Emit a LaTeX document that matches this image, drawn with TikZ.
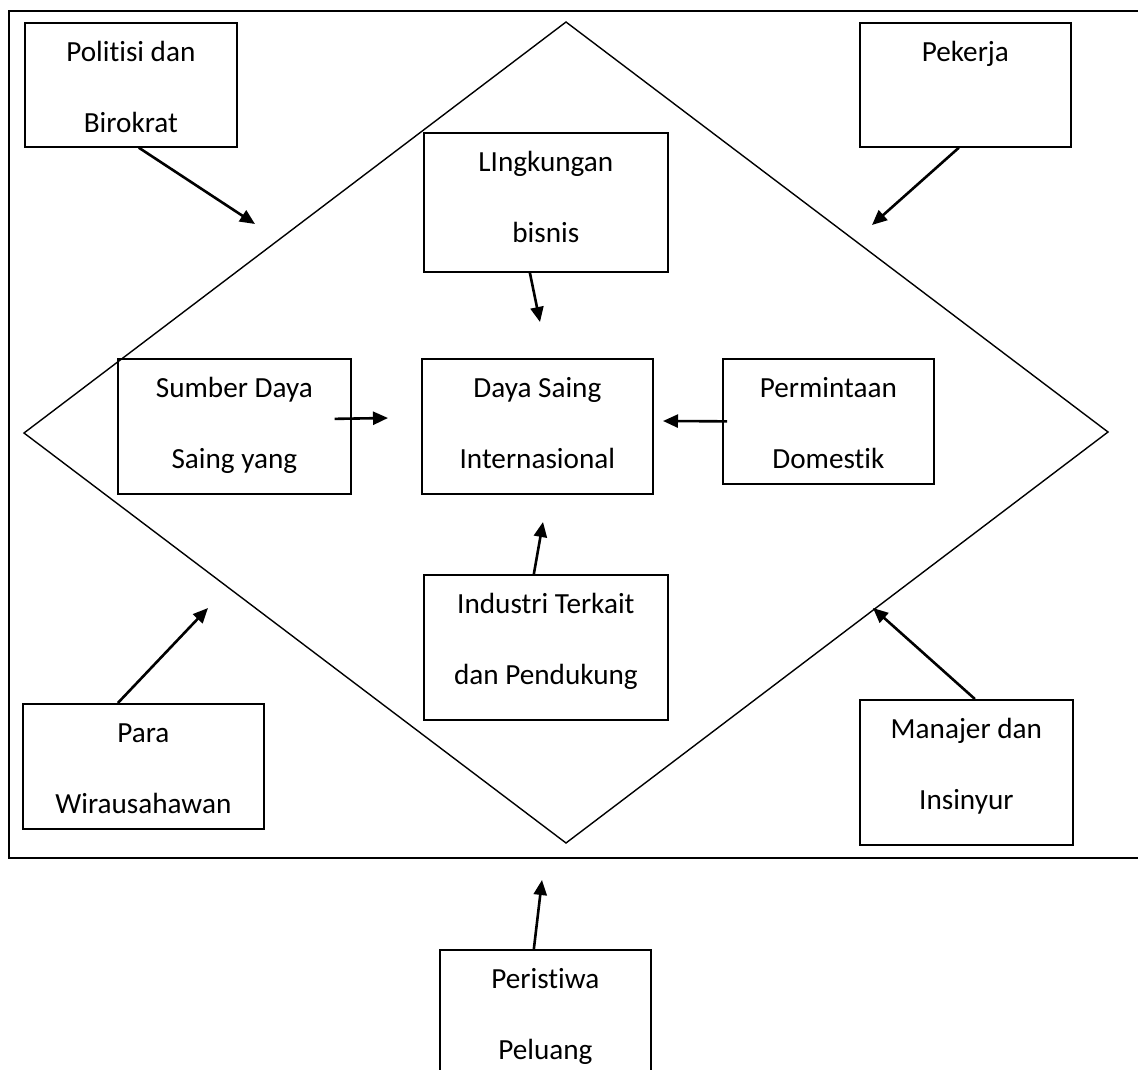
\documentclass[tikz,border=0pt]{standalone}
\usepackage{fontspec}
\setmainfont{Carlito}[Ligatures=NoCommon]
\usetikzlibrary{arrows.meta,calc}

\begin{document}
\begin{tikzpicture}[
    x=1pt, y=-1pt,
    box/.style={rectangle, draw, line width=1.7pt, inner sep=0pt, align=flush center, text height=39pt, font=\fontsize{29.2}{71}\selectfont},
    arrow/.style={-{Triangle[length=15pt,width=13pt]}, line width=2.6pt},
    edge/.style={line width=1.4pt}
  ]
  \useasboundingbox (0,0) rectangle (1138,1070);
  \clip (0,0) rectangle (1138,1070);

  % Frame and diamond
  \draw[line width=1.8pt] (1142,11) -- (9,11) -- (9,858) -- (1142,858);
  \draw[edge] (566,22) -- (1108,432) -- (566,843) -- (24,433) -- cycle;

  % Actors around the diamond
  \node[box, anchor=north west, text width=212pt, text depth=85pt] (politisi) at (24,22) {Politisi dan\\Birokrat};
  \node[box, anchor=north west, text width=211pt, text depth=85pt] (pekerja) at (859,22) {Pekerja};
  \node[box, anchor=north west, text width=241pt, text depth=86pt] (para) at (22,703) {Para\\Wirausahawan};
  \node[box, anchor=north west, text width=213pt, text depth=106pt] (manajer) at (859,699) {Manajer dan\\Insinyur};
  \node[box, anchor=north west, text width=211pt, text depth=106pt] (peristiwa) at (439,949) {Peristiwa\\Peluang};

  % Inner factors
  \node[box, anchor=north west, text width=244pt, text depth=100pt] (lingkungan) at (423,132) {LIngkungan\\bisnis};
  \node[box, anchor=north west, text width=233pt, text depth=96pt] (sumber) at (117,358) {Sumber Daya\\Saing yang};
  \node[box, anchor=north west, text width=231pt, text depth=96pt] (dayasaing) at (421,358) {Daya Saing\\Internasional};
  \node[box, anchor=north west, text width=211pt, text depth=86pt] (permintaan) at (722,358) {Permintaan\\Domestik};
  \node[box, anchor=north west, text width=244pt, text depth=106pt] (industri) at (423,574) {Industri Terkait\\dan Pendukung};

  % Arrow tips
  \coordinate (politisiTip) at (255,224);
  \coordinate (pekerjaTip) at (872,225);
  \coordinate (paraTip) at (208,608);
  \coordinate (manajerTip) at (873,608);
  \coordinate (peristiwaTip) at (542,880);
  \coordinate (lingkunganTip) at (540,322);
  \coordinate (sumberTip) at (388,418);
  \coordinate (permintaanTip) at (663,421);
  \coordinate (industriTip) at (543,522);

  % Arrows
  \draw[arrow] ($(politisi.south)+(8,0)$) -- (politisiTip);
  \draw[arrow] ($(pekerja.south)+(-6.5,0)$) -- (pekerjaTip);
  \draw[arrow] ($(para.north)+(-25.5,0)$) -- (paraTip);
  \draw[arrow] ($(manajer.north)+(8.5,0)$) -- (manajerTip);
  \draw[arrow] ($(peristiwa.north)+(-11.5,0)$) -- (peristiwaTip);
  \draw[arrow] ($(lingkungan.south)+(-16,0)$) -- (lingkunganTip);
  \draw[arrow] ($(sumber.east)+(-17,-7.5)$) -- (sumberTip);
  \draw[arrow] ($(permintaan.west)+(5,0)$) -- (permintaanTip);
  \draw[arrow] ($(industri.north)+(-12,0)$) -- (industriTip);
\end{tikzpicture}
\end{document}
